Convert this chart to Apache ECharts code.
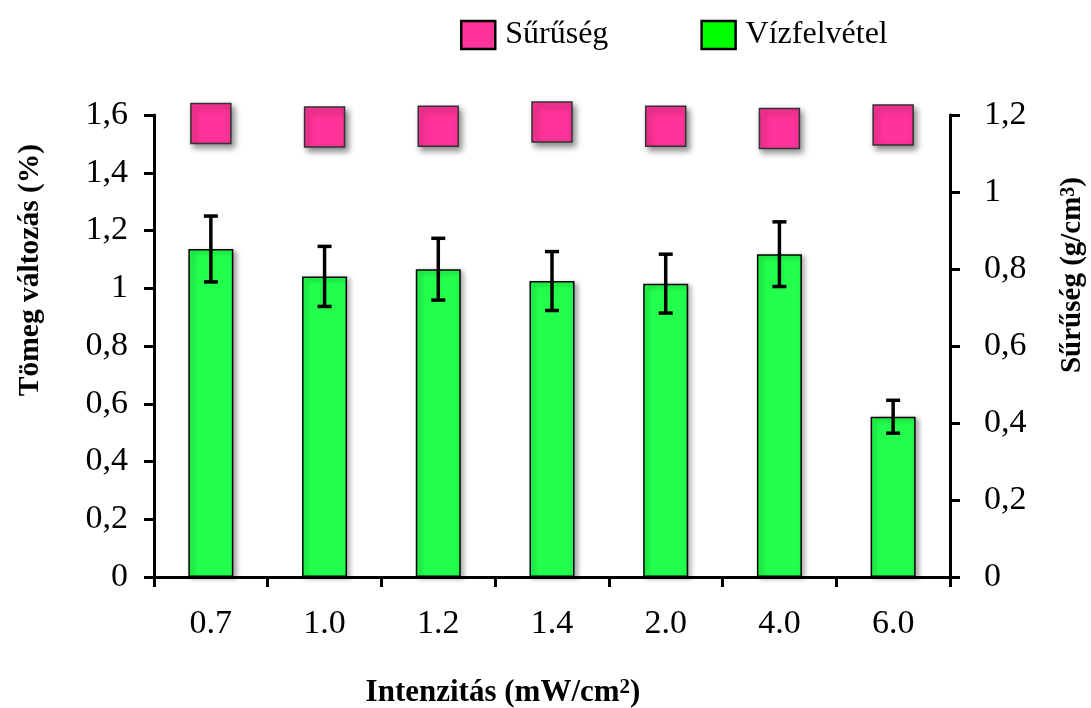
<!DOCTYPE html>
<html>
<head>
<meta charset="utf-8">
<script src="https://cdn.jsdelivr.net/npm/echarts@6/dist/echarts.min.js"></script>
<style>html,body{margin:0;padding:0;background:#fff;}#c{width:1091px;height:708px;}</style>
</head>
<body>
<div id="c"></div>
<script>
var categories = ['0.7', '1.0', '1.2', '1.4', '2.0', '4.0', '6.0'];
var waterUptake = [1.136, 1.041, 1.066, 1.025, 1.016, 1.118, 0.555];
var waterErr = [0.114, 0.104, 0.107, 0.102, 0.102, 0.112, 0.057];
var density = [1.178, 1.169, 1.171, 1.182, 1.171, 1.165, 1.174];
var leftTicks = [0, 1.6, 0.2];
var rightTicks = [0, 1.2, 0.2];

var FONT = 'Liberation Serif';
var fmt = function (v) { return String(+(+v).toFixed(1)).replace('.', ','); };

var errData = categories.map(function (c, i) {
  return [i, waterUptake[i] - waterErr[i], waterUptake[i] + waterErr[i]];
});

var chart = echarts.init(document.getElementById('c'), null, {renderer: 'canvas'});
chart.setOption({
  backgroundColor: '#fff',
  animation: false,
  textStyle: {fontFamily: FONT},
  legend: {
    left: 455, top: 14,
    itemWidth: 34, itemHeight: 28, itemGap: 92,
    textStyle: {fontFamily: FONT, fontSize: 32, color: '#000', padding: [0, 0, 0, 5]},
    data: [
      {name: 'Sűrűség', icon: 'rect', itemStyle: {color: '#ff3399', borderColor: '#000', borderWidth: 2.5, shadowBlur: 0, shadowOffsetX: 0, shadowOffsetY: 0}},
      {name: 'Vízfelvétel', icon: 'rect', itemStyle: {color: '#00ff00', borderColor: '#000', borderWidth: 2.5, shadowBlur: 0, shadowOffsetX: 0, shadowOffsetY: 0}}
    ]
  },
  grid: {left: 154, right: 141, top: 115, bottom: 131},
  xAxis: {
    type: 'category', data: categories, boundaryGap: true,
    axisLine: {lineStyle: {color: '#000', width: 3}},
    axisTick: {show: true, length: 10, lineStyle: {color: '#000', width: 3}},
    axisLabel: {fontFamily: FONT, fontSize: 34, color: '#000', margin: 30}
  },
  yAxis: [
    {
      type: 'value', min: leftTicks[0], max: leftTicks[1], interval: leftTicks[2],
      axisLine: {show: true, lineStyle: {color: '#000', width: 3}},
      axisTick: {show: true, length: 10, lineStyle: {color: '#000', width: 3}},
      splitLine: {show: false},
      axisLabel: {fontFamily: FONT, fontSize: 34, color: '#000', margin: 26, formatter: fmt}
    },
    {
      type: 'value', position: 'right', min: rightTicks[0], max: rightTicks[1], interval: rightTicks[2],
      axisLine: {show: true, lineStyle: {color: '#000', width: 3}},
      axisTick: {show: true, length: 10, lineStyle: {color: '#000', width: 3}},
      splitLine: {show: false},
      axisLabel: {fontFamily: FONT, fontSize: 34, color: '#000', margin: 34, formatter: fmt}
    }
  ],
  series: [
    {
      name: 'Vízfelvétel', type: 'bar', yAxisIndex: 0, data: waterUptake, barWidth: 45,
      itemStyle: {color: '#22ff4c', borderColor: '#000', borderWidth: 1.5,
        shadowColor: 'rgba(0,0,0,0.35)', shadowBlur: 5, shadowOffsetX: 3, shadowOffsetY: 2}
    },
    {
      name: 'err', type: 'custom', yAxisIndex: 0, data: errData, z: 5,
      renderItem: function (params, api) {
        var x = api.value(0);
        var lo = api.coord([x, api.value(1)]);
        var hi = api.coord([x, api.value(2)]);
        var hw = 7;
        var st = {stroke: '#000', lineWidth: 3.5};
        return {type: 'group', children: [
          {type: 'line', shape: {x1: lo[0], y1: lo[1], x2: hi[0], y2: hi[1]}, style: st},
          {type: 'line', shape: {x1: hi[0] - hw, y1: hi[1], x2: hi[0] + hw, y2: hi[1]}, style: st},
          {type: 'line', shape: {x1: lo[0] - hw, y1: lo[1], x2: lo[0] + hw, y2: lo[1]}, style: st}
        ]};
      }
    },
    {
      name: 'Sűrűség', type: 'scatter', yAxisIndex: 1, data: density,
      symbol: 'rect', symbolSize: 40,
      itemStyle: {color: '#ff3399', borderColor: '#333', borderWidth: 1.5, opacity: 1,
        shadowColor: 'rgba(0,0,0,0.45)', shadowBlur: 6, shadowOffsetX: 3, shadowOffsetY: 4}
    }
  ],
  graphic: [
    {
      type: 'text', x: 503, y: 693,
      style: {
        text: '{b|Intenzitás (mW/cm}{s|2}{b|)}',
        align: 'center', verticalAlign: 'middle',
        rich: {
          b: {fontFamily: FONT, fontWeight: 'bold', fontSize: 31, color: '#000'},
          s: {fontFamily: FONT, fontWeight: 'bold', fontSize: 21, color: '#000', verticalAlign: 'top', padding: [0, 0, 8, 0]}
        }
      }
    },
    {
      type: 'text', x: 30, y: 270, rotation: Math.PI / 2,
      style: {
        text: 'Tömeg változás (%)', align: 'center', verticalAlign: 'middle',
        fontFamily: FONT, fontWeight: 'bold', fontSize: 29.5, fill: '#000'
      }
    },
    {
      type: 'text', x: 1073, y: 275, rotation: Math.PI / 2,
      style: {
        text: '{b|Sűrűség (g/cm}{s|3}{b|)}', align: 'center', verticalAlign: 'middle',
        rich: {
          b: {fontFamily: FONT, fontWeight: 'bold', fontSize: 29, color: '#000'},
          s: {fontFamily: FONT, fontWeight: 'bold', fontSize: 20, color: '#000', verticalAlign: 'top', padding: [0, 0, 8, 0]}
        }
      }
    }
  ]
});
</script>
</body>
</html>
